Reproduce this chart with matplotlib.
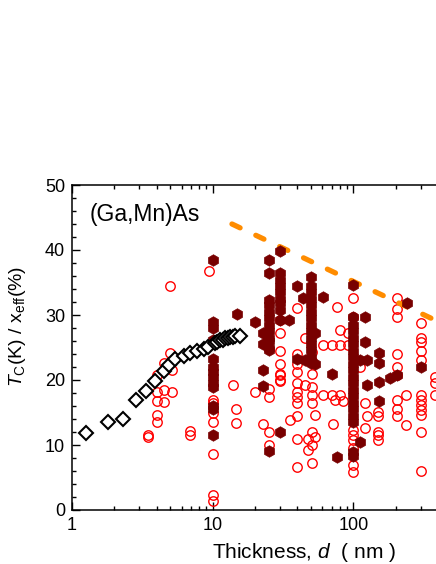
import matplotlib
matplotlib.use("Agg")
import matplotlib.pyplot as plt
from matplotlib.ticker import FixedLocator, MultipleLocator, LogLocator, NullFormatter

plt.rcParams['font.family'] = ['Liberation Sans', 'DejaVu Sans']
plt.rcParams['mathtext.fontset'] = 'custom'
plt.rcParams['mathtext.rm'] = 'Liberation Sans'
plt.rcParams['mathtext.it'] = 'Liberation Sans:italic'

# ---------------- data ----------------
# open diamonds (black)
diamond_x = [1.25, 1.79, 2.32, 2.84, 3.34, 3.89, 4.47, 4.9, 5.4, 6.2, 6.9, 7.7, 8.6, 9.3,
             10.3, 10.8, 11.3, 11.8, 12.3, 12.8, 13.3, 13.9, 14.5, 15.5]
diamond_y = [11.8, 13.6, 14.0, 16.9, 18.3, 19.8, 21.4, 22.3, 23.2, 23.7, 24.1, 24.4, 24.7, 25.1,
             25.7, 25.9, 26.1, 26.2, 26.4, 26.5, 26.6, 26.6, 26.7, 26.8]

# filled hexagons (dark red)
hex_x = ([10] * 13 +
         [14.9, 20, 22.8, 22.8, 22.8, 22.8] +
         [25.2] * 13 +
         [30] * 10 +
         [34.9, 40, 40, 44, 45] +
         [50] * 14 +
         [53, 53, 60.4, 70, 76] +
         [100] * 20 +
         [111, 111, 120, 120, 124, 124, 152, 152, 152, 152, 183, 204, 241, 304])
hex_y = ([38.5, 29.0, 28.0, 26.2, 23.2, 22.0, 21.3, 20.5, 19.5, 19.0, 16.0, 15.5, 11.5] +
         [30.2, 28.9, 27.2, 25.6, 21.5, 19.1] +
         [38.5, 36.4, 32.3, 31.5, 30.5, 29.5, 28.5, 27.5, 26.5, 26.0, 25.0, 24.6, 9.1] +
         [39.9, 36.4, 35.4, 34.5, 33.5, 32.5, 31.8, 30.8, 29.2, 12.0] +
         [29.2, 34.5, 23.3, 32.6, 23.1] +
         [35.9, 34.4, 33.5, 32.5, 31.5, 30.5, 29.5, 28.5, 27.5, 26.5, 25.5, 24.6, 23.5, 22.6] +
         [27.2, 22.5, 32.7, 21.0, 8.1] +
         [34.6, 29.7, 28.5, 27.5, 26.5, 25.5, 24.5, 23.5, 22.5, 21.5, 20.5, 19.5, 18.5, 17.5,
          16.5, 15.5, 14.5, 13.5, 9.0, 8.3] +
         [10.4, 23.1, 29.7, 25.9, 23.1, 19.2, 24.2, 22.6, 19.7, 16.8, 20.3, 20.8, 31.8, 22.0])

# open circles (red)
circle_x = ([3.49, 3.49] + [4.0] * 5 + [4.47, 4.54, 4.54, 4.98, 4.98, 5.1, 5.1, 6.9, 6.9, 9.4] +
            [10] * 7 +
            [14, 14.7, 14.7, 20, 22.8] + [25.2] * 4 +
            [30] * 8 + [35.5] + [40] * 11 + [45, 45, 47.5, 47.5] +
            [50.4] * 9 + [53, 53, 61, 61, 70, 70, 71, 74, 76, 80, 80, 80, 84, 92, 92] +
            [100] * 8 + [111, 121, 121, 124] + [150] * 5 +
            [203] * 9 + [236, 236] + [304] * 12 + [380, 380, 380])
circle_y = ([11.5, 11.2] + [20.8, 18.2, 16.7, 14.6, 13.6] +
            [22.6, 18.5, 16.6, 24.1, 34.5, 21.5, 18.1, 12.2, 11.6, 36.7] +
            [16.9, 16.4, 15.0, 13.6, 8.6, 2.3, 1.4] +
            [19.3, 15.5, 13.4, 18.2, 13.3] + [18.6, 17.4, 12.0, 10.0] +
            [29.2, 27.3, 24.4, 22.5, 21.0, 20.0, 20.8, 19.9] + [13.8] +
            [31.1, 21.3, 19.5, 18.2, 17.4, 16.4, 14.4, 10.9, 6.6, 22.5, 24.0] +
            [26.4, 19.2, 10.9, 9.2] +
            [19.0, 17.7, 16.4, 12.0, 10.0, 7.3, 21.0, 23.0, 24.3] +
            [14.6, 11.3, 25.4, 17.7, 25.4, 17.7, 13.3, 16.9, 31.3, 27.7, 25.4, 17.7, 16.7, 27.2, 25.4] +
            [32.6, 29.7, 12.3, 11.5, 10.8, 9.6, 6.9, 5.8] +
            [22.0, 16.4, 12.6, 14.4] + [15.1, 14.4, 12.0, 11.5, 10.8] +
            [32.6, 31.0, 29.7, 24.0, 22.0, 20.8, 16.9, 15.6, 14.4] + [17.7, 13.1] +
            [28.7, 26.4, 25.9, 24.5, 23.1, 17.7, 16.9, 16.2, 15.4, 14.6, 12.0, 6.0] +
            [20.5, 19.6, 17.7])

# orange dashed upper bound line (endpoints)
bound_x = [13.7, 390]
bound_y = [44.0, 29.1]

# axis/tick labels
x_ticks = [1, 10, 100]
x_tick_labels = ['1', '10', '100']
y_ticks = [0, 10, 20, 30, 40, 50]

# ---------------- figure ----------------
W, H = 436, 564
fig = plt.figure(figsize=(W / 100, H / 100), dpi=100)
ax = fig.add_axes([72 / W, (H - 510) / H, (W - 72) / W, 325 / H])

ax.plot(circle_x, circle_y, 'o', ms=6.8, mfc='none', mec='#ff0000', mew=1.0, zorder=2)
ax.plot(bound_x, bound_y, '--', color='#ff8c00', lw=3.8, dashes=(1.7, 3.3),
        dash_capstyle='round', zorder=2.5)
ax.plot(hex_x, hex_y, 'h', ms=8.3, mfc='#780000', mec='#780000', mew=0.5, zorder=3)
ax.plot(diamond_x, diamond_y, 'D', ms=7.0, mfc='white', mec='black', mew=1.5, zorder=4)

ax.set_xscale('log')
ax.set_xlim(1, 386)
ax.set_ylim(0, 50)

ax.xaxis.set_major_locator(FixedLocator(x_ticks))
ax.set_xticklabels(x_tick_labels)
ax.xaxis.set_minor_locator(LogLocator(base=10, subs=range(2, 10)))
ax.xaxis.set_minor_formatter(NullFormatter())
ax.yaxis.set_major_locator(FixedLocator(y_ticks))
ax.yaxis.set_minor_locator(MultipleLocator(2))

ax.tick_params(which='both', direction='in', top=True, right=False, width=1.0,
               labelsize=13, pad=5)
ax.tick_params(which='major', length=5.5)
ax.tick_params(which='minor', length=3)
for s in ['left', 'bottom', 'top']:
    ax.spines[s].set_linewidth(1.1)
ax.spines['right'].set_visible(False)

ax.set_xlabel(r'Thickness, $d$  ( nm )', fontsize=15)
ax.xaxis.set_label_coords((304 - 72) / 364, (510 - 552) / 325)
ax.xaxis.label.set_va('center')
ax.set_ylabel(r'$T_\mathrm{C}$(K) / x$_\mathrm{eff}$(%)', fontsize=14)
ax.yaxis.set_label_coords((17 - 72) / 364, (510 - 326) / 325)
ax.yaxis.label.set_va('center')

ax.text((90 - 72) / 364, (510 - 214) / 325, '(Ga,Mn)As', transform=ax.transAxes,
        fontsize=16.5, ha='left', va='center')

fig.savefig('out.png', dpi=100)
